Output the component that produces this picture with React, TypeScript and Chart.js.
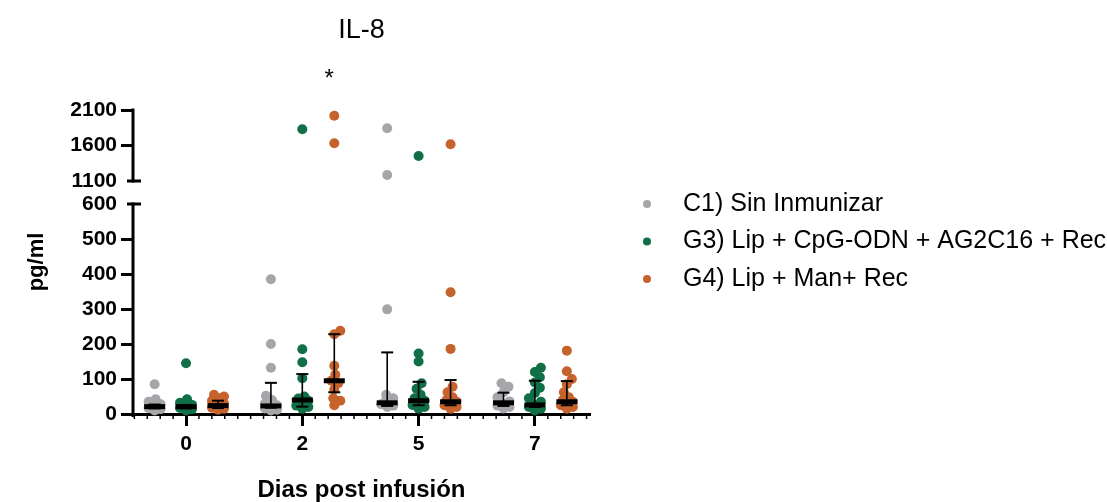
import React, { useEffect, useRef } from 'react';
import { Chart, registerables, LinearScale } from 'chart.js';

Chart.register(...registerables);

// ---- data -------------------------------------------------------------
const DAYS = ['0', '2', '5', '7'];
const GROUP_LABELS = [
  'C1) Sin Inmunizar',
  'G3) Lip + CpG-ODN + AG2C16 + Rec',
  'G4) Lip + Man+ Rec',
];
const GROUP_COLORS = ['#a6a6aa', '#106f47', '#c6632c'];

// IL-8 (pg/ml) per animal, one list per day
const C1_POINTS = [
  [85, 42, 35, 28, 22, 20, 17, 14, 10],
  [385, 200, 132, 52, 40, 30, 25, 22, 20, 16, 12, 10],
  [1842, 1185, 299, 55, 45, 35, 32, 28, 24, 20],
  [88, 78, 62, 48, 36, 32, 28, 24, 20, 16],
];
const G3_POINTS = [
  [145, 42, 32, 26, 22, 20, 17, 14, 10],
  [1830, 185, 148, 102, 50, 44, 38, 30, 24, 20, 15],
  [1452, 173, 150, 88, 72, 55, 45, 38, 32, 26, 20, 15],
  [132, 120, 105, 90, 75, 60, 45, 35, 28, 24, 20, 15, 10],
];
const G4_POINTS = [
  [55, 50, 45, 38, 30, 25, 22, 18, 15, 12],
  [2020, 1631, 238, 228, 138, 112, 95, 88, 70, 45, 38, 25],
  [1617, 348, 186, 78, 62, 48, 40, 35, 30, 25, 20, 15],
  [181, 122, 100, 85, 62, 48, 40, 35, 30, 25, 20, 15],
];

// median and interquartile range per day
const C1_MEDIAN = [21, 23, 32, 32];
const C1_Q1 = [16, 18, 23, 23];
const C1_Q3 = [27, 89, 176, 61];
const G3_MEDIAN = [21, 40, 38, 26];
const G3_Q1 = [16, 21, 25, 20];
const G3_Q3 = [26, 114, 92, 95];
const G4_MEDIAN = [24, 95, 35, 35];
const G4_Q1 = [17, 62, 25, 25];
const G4_Q3 = [38, 228, 97, 94];

const Y_TICKS = [0, 100, 200, 300, 400, 500, 600, 1100, 1600, 2100];
const SIGNIFICANT_DAY = 1; // "*" above day 2
const SIGNIFICANCE_MARK = '*';

// ---- layout constants -------------------------------------------------
const FONT = "'Liberation Sans', Arial, Helvetica, sans-serif";
const Y_BREAK_LOW = 600;
const Y_BREAK_HIGH = 1100;
const Y_MAX = 2100;
const LOW_SHARE = 210 / 304; // part of the plot height for 0..600
const GAP_SHARE = 23 / 304; // blank band of the axis break
const PLOT_H = 304;
const X_MIN = -0.456;
const X_MAX = 3.474;
const X_PX_PER_UNIT = 457 / (X_MAX - X_MIN);
const GROUP_SHIFT = [-0.27, 0, 0.275];

// Linear scale with a break between 600 and 1100
class BrokenLinearScale extends LinearScale {
  static id = 'brokenLinear';

  getPixelForValue(value: any) {
    if (value === null || value === undefined || isNaN(value)) return NaN;
    const h = this.bottom - this.top;
    const lowH = h * LOW_SHARE;
    const gapH = h * GAP_SHARE;
    const highH = h - lowH - gapH;
    if (value <= Y_BREAK_LOW) return this.bottom - (value / Y_BREAK_LOW) * lowH;
    if (value < Y_BREAK_HIGH)
      return this.bottom - lowH - ((value - Y_BREAK_LOW) / (Y_BREAK_HIGH - Y_BREAK_LOW)) * gapH;
    return this.bottom - lowH - gapH - ((value - Y_BREAK_HIGH) / (Y_MAX - Y_BREAK_HIGH)) * highH;
  }

  getValueForPixel(pixel: number) {
    const h = this.bottom - this.top;
    const lowH = h * LOW_SHARE;
    const gapH = h * GAP_SHARE;
    const highH = h - lowH - gapH;
    const d = this.bottom - pixel;
    if (d <= lowH) return (d / lowH) * Y_BREAK_LOW;
    if (d <= lowH + gapH) return Y_BREAK_LOW + ((d - lowH) / gapH) * (Y_BREAK_HIGH - Y_BREAK_LOW);
    return Y_BREAK_HIGH + ((d - lowH - gapH) / highH) * (Y_MAX - Y_BREAK_HIGH);
  }
}
Chart.register(BrokenLinearScale);

// height above the x axis, in px, used to spread overlapping dots sideways
function heightPx(v: number) {
  const lowH = PLOT_H * LOW_SHARE;
  const gapH = PLOT_H * GAP_SHARE;
  const highH = PLOT_H - lowH - gapH;
  if (v <= Y_BREAK_LOW) return (v / Y_BREAK_LOW) * lowH;
  if (v < Y_BREAK_HIGH) return lowH + ((v - Y_BREAK_LOW) / (Y_BREAK_HIGH - Y_BREAK_LOW)) * gapH;
  return lowH + gapH + ((v - Y_BREAK_HIGH) / (Y_MAX - Y_BREAK_HIGH)) * highH;
}

// simple beeswarm: offsets (in category units) so dots do not pile up
function swarm(values: number[]): number[] {
  const maxSpread = 6;
  const minGap = 7;
  const order = values.map((_, i) => i).sort((a, b) => values[a] - values[b]);
  const placed: { x: number; y: number }[] = [];
  const out = new Array(values.length).fill(0);
  const candidates: number[] = [0];
  for (let s = 1; s <= maxSpread; s++) candidates.push(s, -s);
  for (const i of order) {
    const y = heightPx(values[i]);
    let bestX = 0;
    let bestD = -1;
    for (const c of candidates) {
      let d = Infinity;
      for (const p of placed) d = Math.min(d, Math.hypot(p.x - c, p.y - y));
      if (d >= minGap) {
        bestX = c;
        bestD = d;
        break;
      }
      if (d > bestD) {
        bestD = d;
        bestX = c;
      }
    }
    placed.push({ x: bestX, y });
    out[i] = bestX / X_PX_PER_UNIT;
  }
  return out;
}

const GROUPS = [
  { points: C1_POINTS, median: C1_MEDIAN, q1: C1_Q1, q3: C1_Q3 },
  { points: G3_POINTS, median: G3_MEDIAN, q1: G3_Q1, q3: G3_Q3 },
  { points: G4_POINTS, median: G4_MEDIAN, q1: G4_Q1, q3: G4_Q3 },
];

// axis break, minor ticks, legend and significance mark
const decorPlugin = {
  id: 'il8Decor',
  beforeDatasetsDraw(chart: any) {
    const { ctx, chartArea } = chart;
    const ys = chart.scales.y;
    const xs = chart.scales.x;
    const ax = chartArea.left;
    ctx.save();
    ctx.strokeStyle = '#000';
    ctx.lineCap = 'butt';
    ctx.lineWidth = 3;
    // two y-axis segments
    ctx.beginPath();
    ctx.moveTo(ax, ys.getPixelForValue(0) + 3);
    ctx.lineTo(ax, ys.getPixelForValue(Y_BREAK_LOW) - 1.5);
    ctx.moveTo(ax, ys.getPixelForValue(Y_BREAK_HIGH) + 1.5);
    ctx.lineTo(ax, ys.getPixelForValue(Y_MAX) - 1.5);
    ctx.stroke();
    // break marks crossing the axis
    ctx.beginPath();
    for (const v of [Y_BREAK_LOW, Y_BREAK_HIGH]) {
      const py = ys.getPixelForValue(v);
      ctx.moveTo(ax - 6, py);
      ctx.lineTo(ax + 8, py);
    }
    ctx.stroke();
    // minor ticks along the x axis
    ctx.lineWidth = 1.5;
    ctx.beginPath();
    const base = chartArea.bottom;
    for (let k = Math.ceil(X_MIN * 9); k <= Math.floor(X_MAX * 9); k++) {
      if (k % 9 === 0) continue;
      const px = xs.getPixelForValue(k / 9);
      ctx.moveTo(px, base - 1);
      ctx.lineTo(px, base + 5);
    }
    ctx.stroke();
    ctx.restore();
  },
  afterDraw(chart: any) {
    const { ctx, chartArea } = chart;
    const xs = chart.scales.x;
    ctx.save();
    // significance mark
    ctx.fillStyle = '#000';
    ctx.font = `24px ${FONT}`;
    ctx.textAlign = 'center';
    ctx.textBaseline = 'alphabetic';
    ctx.fillText(SIGNIFICANCE_MARK, xs.getPixelForValue(SIGNIFICANT_DAY + 0.23), chartArea.top - 24);
    // legend
    ctx.font = `25px ${FONT}`;
    ctx.textAlign = 'left';
    ctx.textBaseline = 'middle';
    GROUP_LABELS.forEach((label, i) => {
      const cy = chartArea.top + 94 + i * 37.5;
      ctx.fillStyle = GROUP_COLORS[i];
      ctx.beginPath();
      ctx.arc(chartArea.right + 57, cy, 4, 0, Math.PI * 2);
      ctx.fill();
      ctx.fillStyle = '#000';
      ctx.fillText(label, chartArea.right + 93, cy);
    });
    ctx.restore();
  },
};

export default function App() {
  const canvasRef = useRef<HTMLCanvasElement | null>(null);

  useEffect(() => {
    if (!canvasRef.current) return;
    Chart.defaults.font.family = FONT;
    Chart.defaults.color = '#000';

    const pointSets = GROUPS.map((g, gi) => ({
      type: 'scatter' as const,
      label: GROUP_LABELS[gi],
      order: 3,
      data: g.points.flatMap((vals, di) => {
        const offs = swarm(vals);
        return vals.map((v, k) => ({ x: di + GROUP_SHIFT[gi] + offs[k], y: v }));
      }),
      pointRadius: 5,
      pointBackgroundColor: GROUP_COLORS[gi],
      pointBorderColor: GROUP_COLORS[gi],
      pointBorderWidth: 0,
      showLine: false,
      clip: false,
    }));

    const rangeSets = GROUPS.map((g, gi) => ({
      type: 'scatter' as const,
      label: `${GROUP_LABELS[gi]} IQR`,
      order: 2,
      data: g.q1.flatMap((lo, di) => [
        { x: di + GROUP_SHIFT[gi], y: lo },
        { x: di + GROUP_SHIFT[gi], y: g.q3[di] },
        { x: di + GROUP_SHIFT[gi], y: null },
      ]),
      showLine: true,
      spanGaps: false,
      borderColor: '#000',
      borderWidth: 1.6,
      pointStyle: 'line',
      pointRadius: 6,
      pointBorderWidth: 2,
      pointBorderColor: '#000',
      clip: false,
    }));

    const medianSets = GROUPS.map((g, gi) => ({
      type: 'scatter' as const,
      label: `${GROUP_LABELS[gi]} median`,
      order: 1,
      data: g.median.map((m, di) => ({ x: di + GROUP_SHIFT[gi], y: m })),
      showLine: false,
      pointStyle: 'line',
      pointRadius: 10.5,
      pointBorderWidth: 5,
      pointBorderColor: '#000',
      clip: false,
    }));

    const chart = new Chart(canvasRef.current, {
      type: 'scatter',
      data: { datasets: [...pointSets, ...rangeSets, ...medianSets] as any },
      options: {
        responsive: false,
        animation: false,
        events: [],
        layout: { padding: { left: 0, top: 0, right: 517, bottom: 0 } },
        plugins: {
          legend: { display: false },
          tooltip: { enabled: false },
          title: {
            display: true,
            text: 'IL-8',
            fullSize: false,
            color: '#000',
            font: { size: 27, weight: 'normal', family: FONT, lineHeight: 1.2 },
            padding: { top: 14.8, bottom: 62.8 },
          },
        },
        scales: {
          x: {
            type: 'linear',
            position: 'bottom',
            min: X_MIN,
            max: X_MAX,
            afterBuildTicks: (scale: any) => {
              scale.ticks = DAYS.map((_, i) => ({ value: i }));
            },
            afterFit: (scale: any) => {
              scale.height = 88;
            },
            ticks: {
              autoSkip: false,
              maxRotation: 0,
              padding: 6,
              color: '#000',
              font: { size: 21, weight: 'bold', family: FONT },
              callback: (_v: any, i: number) => DAYS[i],
            },
            grid: {
              display: true,
              drawOnChartArea: false,
              drawTicks: true,
              tickLength: 12,
              tickWidth: 3,
              tickColor: '#000',
            },
            border: { display: true, color: '#000', width: 3 },
            title: {
              display: true,
              text: 'Dias post infusión',
              color: '#000',
              font: { size: 24, weight: 'bold', family: FONT, lineHeight: 1 },
              padding: { top: 0, bottom: 0 },
            },
          },
          y: {
            type: 'brokenLinear' as any,
            position: 'left',
            min: 0,
            max: Y_MAX,
            afterBuildTicks: (scale: any) => {
              scale.ticks = Y_TICKS.map((v) => ({ value: v }));
            },
            afterFit: (scale: any) => {
              scale.width = 133;
            },
            ticks: {
              autoSkip: false,
              padding: 4,
              color: '#000',
              font: { size: 21, weight: 'bold', family: FONT },
              callback: (v: any) => String(v),
            },
            grid: {
              display: true,
              drawOnChartArea: false,
              drawTicks: true,
              tickLength: 12,
              tickWidth: 3,
              tickColor: (c: any) =>
                c.tick && (c.tick.value === Y_BREAK_LOW || c.tick.value === Y_BREAK_HIGH)
                  ? 'rgba(0,0,0,0)'
                  : '#000',
            },
            border: { display: false },
            title: {
              display: true,
              text: 'pg/ml',
              color: '#000',
              font: { size: 22, weight: 'bold', family: FONT, lineHeight: 1.2 },
              padding: { top: 24, bottom: 0 },
            },
          },
        },
      },
      plugins: [decorPlugin],
    } as any);

    return () => chart.destroy();
  }, []);

  return (
    <div style={{ position: 'fixed', left: 0, top: 0, width: 1107, height: 502, background: '#fff' }}>
      <canvas ref={canvasRef} width={1107} height={502} style={{ display: 'block' }} />
    </div>
  );
}
